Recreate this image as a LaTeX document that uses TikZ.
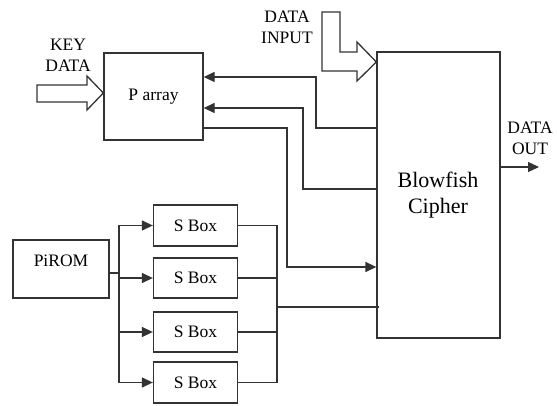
\documentclass[tikz,border=0pt]{standalone}
\usepackage{fontspec}
\setmainfont{Liberation Serif}
\usetikzlibrary{arrows.meta}
\begin{document}
\begin{tikzpicture}[x=1pt,y=-1pt,
  ln/.style={draw=black!80,line width=1.3pt},
  box/.style={ln,rectangle,inner sep=0pt,fill=white},
  arr/.style={ln,-{Triangle[length=11pt,width=10pt]}},
  txt/.style={font=\fontsize{17.5}{21}\selectfont,align=center,inner sep=0pt},
  hollow/.style={draw=black!80,line width=1.3pt,line join=miter,fill=white}]
\useasboundingbox (0,0) rectangle (557,406);
% boxes
\node[box,minimum width=99pt,minimum height=87pt,txt] (parray) at (153.5,96.5) {\raisebox{-4pt}{P array}};
\node[box,minimum width=123pt,minimum height=286pt] (blow) at (438.5,195) {};
\node[txt,font=\fontsize{22}{26}\selectfont] (blowtxt) at (438,195) {Blowfish\\Cipher};
\node[box,minimum width=96pt,minimum height=58pt] (prom) at (61,269) {};
\node[txt] (promtxt) at (61,261) {PiROM};
\node[box,minimum width=84pt,minimum height=41pt,txt] (s1) at (195.5,225.5) {S Box};
\node[box,minimum width=84pt,minimum height=40pt,txt] (s2) at (195.5,278) {S Box};
\node[box,minimum width=84pt,minimum height=40pt,txt] (s3) at (195.5,332) {S Box};
\node[box,minimum width=84pt,minimum height=41pt,txt] (s4) at (195.5,382.5) {S Box};
% labels
\node[txt] (keytxt) at (68,55) {KEY\\DATA};
\node[txt] (intxt) at (287,27) {DATA\\INPUT};
\node[txt] (outtxt) at (530,138) {DATA\\OUT};
% hollow arrows
\path[hollow] (37,85) -- (87,85) -- (87,76) -- (parray.west |- 0,93) -- (87,110) -- (87,102) -- (37,102) -- cycle;
\path[hollow] (322,12) -- (340,12) -- (340,52) -- (357,52) -- (357,42) -- (blow.west |- 0,62) -- (357,81) -- (357,71) -- (322,71) -- cycle;
% feedback connectors
\draw[arr] (blow.west |- 0,128) -- (316,128) -- (316,77) -- (parray.east |- 0,77);
\draw[arr] (blow.west |- 0,189) -- (303,189) -- (303,108) -- (parray.east |- 0,108);
\draw[arr] (parray.east |- 0,128) -- (287,128) -- (287,267) -- (blow.west |- 0,267);
% PiROM to S boxes
\coordinate (pb) at (119,273);
\draw[ln] (prom.east |- pb) -- (pb);
\draw[ln] (119,225.5) -- (119,382.5);
\foreach \s in {s1,s2,s3,s4}{
  \draw[arr] (pb |- \s.west) -- (\s.west);
}
% S boxes to bus
\coordinate (sb) at (277,307);
\foreach \s in {s1,s2,s3,s4}{
  \draw[ln] (\s.east) -- (sb |- \s.east);
}
\draw[ln] (277,225.5) -- (277,382.5);
\draw[ln] (sb) -- ([xshift=3pt]blow.west |- sb);
% data out
\coordinate (dout) at (539,167);
\draw[arr] (blow.east |- dout) -- (dout);
\end{tikzpicture}
\end{document}
